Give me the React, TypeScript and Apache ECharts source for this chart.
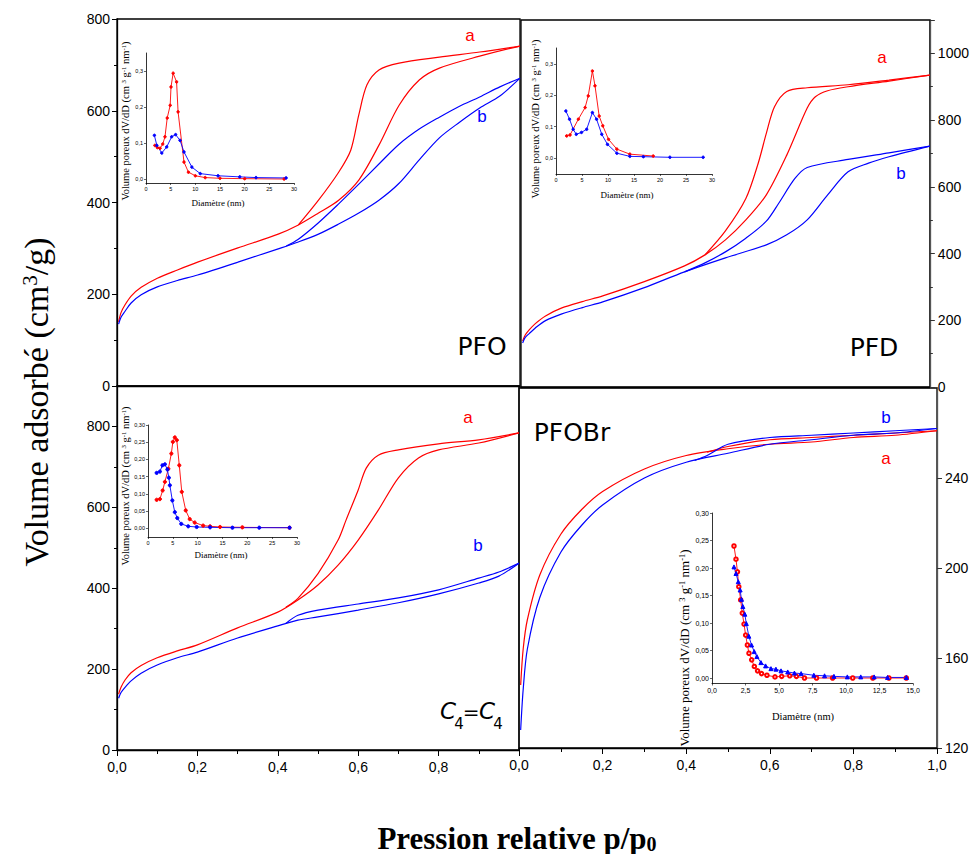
import React, { useEffect, useRef } from "react";
import * as echarts from "echarts";

const RED = "#ff0000";
const BLUE = "#0000ff";

// ---------- Isotherms: [p/p0, volume cm3/g] ----------
// PFO (top-left)
const pfoRedAds = [[0.004,140],[0.01,160],[0.02,177],[0.035,196],[0.06,215],[0.1,235],[0.15,253],[0.2,270],[0.3,301],[0.4,331],[0.45,351],[0.5,377],[0.55,405],[0.6,449],[0.65,525],[0.7,612],[0.75,667],[0.8,693],[0.9,719],[1.0,741]];
const pfoRedDes = [[1.0,741],[0.9,728],[0.8,717],[0.7,704],[0.65,689],[0.62,656],[0.6,591],[0.58,514],[0.55,466],[0.5,405],[0.45,351]];
const pfoBlueAds = [[0.004,135],[0.01,150],[0.02,163],[0.035,181],[0.06,199],[0.1,216],[0.15,230],[0.2,242],[0.3,270],[0.4,299],[0.45,314],[0.5,331],[0.55,353],[0.6,377],[0.65,405],[0.7,442],[0.75,493],[0.8,541],[0.85,575],[0.9,606],[0.95,632],[1.0,671]];
const pfoBlueDes = [[1.0,671],[0.95,652],[0.9,630],[0.85,610],[0.8,586],[0.75,560],[0.7,527],[0.65,484],[0.6,440],[0.55,397],[0.5,356],[0.45,320],[0.42,305]];

// PFD (top-right)
const pfdRedAds = [[0.004,138],[0.01,155],[0.02,171],[0.035,190],[0.06,213],[0.1,237],[0.15,256],[0.2,273],[0.3,315],[0.4,363],[0.45,396],[0.5,441],[0.55,501],[0.6,576],[0.65,695],[0.7,836],[0.72,870],[0.75,888],[0.8,900],[0.9,917],[1.0,935]];
const pfdRedDes = [[1.0,935],[0.9,920],[0.8,906],[0.7,897],[0.65,886],[0.62,840],[0.6,760],[0.58,670],[0.55,565],[0.5,468],[0.45,396]];
const pfdBlueAds = [[0.004,132],[0.01,148],[0.02,160],[0.035,177],[0.06,199],[0.1,219],[0.15,238],[0.2,255],[0.3,297],[0.4,345],[0.5,387],[0.6,426],[0.65,456],[0.7,501],[0.75,576],[0.8,645],[0.85,671],[0.9,690],[1.0,722]];
const pfdBlueDes = [[1.0,722],[0.9,702],[0.8,682],[0.7,658],[0.67,625],[0.63,550],[0.6,497],[0.55,446],[0.5,405],[0.45,372],[0.4,345]];

// C4=C4 (bottom-left)
const c4RedAds = [[0.004,138],[0.01,155],[0.02,173],[0.035,191],[0.06,209],[0.1,228],[0.15,245],[0.2,260],[0.3,302],[0.4,341],[0.45,371],[0.5,408],[0.55,457],[0.6,519],[0.65,593],[0.7,673],[0.75,722],[0.8,742],[0.9,759],[1.0,784]];
const c4RedDes = [[1.0,784],[0.9,767],[0.8,757],[0.7,742],[0.65,729],[0.62,697],[0.6,643],[0.57,569],[0.55,519],[0.5,436],[0.45,375],[0.42,353]];
const c4BlueAds = [[0.004,128],[0.01,142],[0.02,155],[0.035,171],[0.06,190],[0.1,210],[0.15,228],[0.2,242],[0.3,277],[0.4,307],[0.45,321],[0.5,329],[0.6,346],[0.7,364],[0.8,386],[0.9,413],[0.95,430],[1.0,462]];
const c4BlueDes = [[1.0,462],[0.95,440],[0.9,425],[0.8,396],[0.7,376],[0.6,361],[0.5,346],[0.45,333],[0.42,313]];

// PFOBr (bottom-right)
const brRedAds = [[0.004,148],[0.01,164],[0.02,177],[0.05,197],[0.1,215],[0.15,226],[0.2,234],[0.3,244],[0.4,250],[0.5,253],[0.6,255],[0.7,256],[0.8,258],[0.9,259],[1.0,261]];
const brRedDes = [[1.0,261],[0.9,260],[0.8,259],[0.7,258],[0.6,257],[0.5,254],[0.45,251.5]];
const brBlueAds = [[0.004,128],[0.01,146],[0.02,164],[0.05,187],[0.1,207],[0.15,219],[0.2,228],[0.3,240],[0.4,247],[0.5,251],[0.6,255],[0.7,257],[0.8,259],[0.9,260],[1.0,262]];
const brBlueDes = [[1.0,262],[0.9,261],[0.8,260],[0.7,259],[0.6,258],[0.5,255],[0.45,250],[0.42,247.8]];

// ---------- Pore size distributions: [diameter nm, dV/dD] ----------
const psdPfoRed = [[1.8,0.094],[2.3,0.088],[2.85,0.086],[3.4,0.098],[3.85,0.118],[4.3,0.17],[4.9,0.205],[5.07,0.256],[5.5,0.294],[6.2,0.27],[6.5,0.187],[7.7,0.048],[8.6,0.02],[10,0.01],[12,0.005],[15,0.003],[20,0.002],[28,0.001]];
const psdPfoBlue = [[1.7,0.122],[2.2,0.094],[3.2,0.073],[4.2,0.09],[5.2,0.118],[6.0,0.124],[6.9,0.108],[7.7,0.076],[9.3,0.034],[11,0.016],[14.6,0.01],[19,0.007],[22.3,0.005],[28.4,0.004]];
const psdPfdRed = [[2.05,0.071],[2.7,0.074],[4.3,0.124],[5.6,0.161],[6.2,0.198],[7.0,0.277],[7.5,0.23],[8.3,0.134],[9.0,0.103],[10.1,0.06],[11.7,0.029],[14.2,0.013],[18.7,0.007]];
const psdPfdBlue = [[1.9,0.15],[2.6,0.124],[3.3,0.092],[3.9,0.076],[4.9,0.082],[5.9,0.092],[7.0,0.145],[7.8,0.124],[8.8,0.076],[9.9,0.044],[11.7,0.016],[14.2,0.006],[16.8,0.005],[21.9,0.003],[28.3,0.003]];
const psdC4Red = [[1.74,0.083],[2.4,0.085],[2.95,0.11],[3.4,0.135],[4.1,0.173],[4.7,0.217],[5.0,0.251],[5.4,0.264],[5.8,0.256],[6.3,0.183],[6.8,0.106],[7.6,0.052],[8.4,0.027],[9.4,0.017],[11.1,0.008],[12.5,0.006],[14.5,0.004],[19,0.003],[28.5,0.002]];
const psdC4Blue = [[1.74,0.161],[2.4,0.165],[2.9,0.183],[3.4,0.186],[3.9,0.171],[4.2,0.147],[4.4,0.125],[4.9,0.081],[5.4,0.047],[5.9,0.03],[6.7,0.013],[8.1,0.006],[9.8,0.004],[12.5,0.003],[17,0.002],[22.4,0.002],[28.5,0.002]];
const psdBrRed = [[1.64,0.24],[1.79,0.216],[1.9,0.193],[2.0,0.166],[2.14,0.142],[2.26,0.118],[2.39,0.098],[2.51,0.078],[2.64,0.06],[2.76,0.045],[2.96,0.033],[3.16,0.021],[3.4,0.013],[3.7,0.008],[4.1,0.005],[4.7,0.002],[5.2,0.003],[5.8,0.004],[6.3,0.003],[6.9,0.0],[7.8,0.0],[9.0,0.0],[10.5,0.0],[12,0.0],[13.2,0.0],[14.5,0.0]];
const psdBrBlue = [[1.64,0.202],[1.79,0.19],[1.96,0.175],[2.1,0.16],[2.2,0.143],[2.3,0.13],[2.45,0.116],[2.56,0.099],[2.75,0.076],[2.95,0.06],[3.15,0.048],[3.35,0.039],[3.65,0.028],[4.0,0.022],[4.4,0.017],[4.77,0.016],[5.15,0.013],[5.65,0.011],[6.15,0.009],[6.65,0.008],[7.6,0.005],[8.4,0.004],[9.1,0.003],[10.1,0.002],[11.1,0.002],[12.1,0.002],[13.1,0.001],[14.5,0.001]];

// ---------- Tick labels ----------
const insetYTicks1 = [0, 0.1, 0.2, 0.3];
const insetYTicks2 = [0, 0.05, 0.1, 0.15, 0.2, 0.25, 0.3];

const fmt1 = (v: number) => v.toFixed(1).replace(".", ",");
const fmt2 = (v: number) => v.toFixed(2).replace(".", ",");
const fmtInt = (v: number) => String(Math.round(v));
const NARROW = "'Liberation Sans Narrow', 'Liberation Sans', Arial, sans-serif";
const SERIF = "'Liberation Serif', 'Times New Roman', serif";
const HAND = "'DejaVu Sans', 'Noto Sans', sans-serif";

function buildOption() {
  const grids = [
    { left: 117, top: 19, width: 403, height: 367 },
    { left: 521, top: 20, width: 415, height: 367 },
    { left: 117, top: 386, width: 402, height: 364 },
    { left: 519, top: 388, width: 418, height: 360 },
    { left: 146, top: 53, width: 148, height: 130 },
    { left: 556, top: 48, width: 156, height: 126 },
    { left: 148, top: 425, width: 149, height: 112 },
    { left: 712, top: 513, width: 201, height: 170.5 },
  ].map((g, i) => ({
    ...g,
    containLabel: false,
    show: i < 4,
    borderColor: "#000",
    borderWidth: 1.3,
    backgroundColor: "transparent",
  }));

  const mainLine = { show: true, onZero: false, lineStyle: { color: "#000", width: 1.3 } };
  const rightLine = { show: true, onZero: false, lineStyle: { color: "#555", width: 1.3 } };

  const xAxis: any[] = [
    { gridIndex: 0, type: "value", min: 0, max: 1, axisLine: mainLine, axisTick: { show: false }, axisLabel: { show: false }, splitLine: { show: false } },
    { gridIndex: 1, type: "value", min: 0, max: 1, axisLine: mainLine, axisTick: { show: false }, axisLabel: { show: false }, splitLine: { show: false } },
    {
      gridIndex: 2, type: "value", min: 0, max: 1, interval: 0.2, axisLine: mainLine,
      axisTick: { show: true, length: 6, lineStyle: { color: "#000" } },
      minorTick: { show: true, splitNumber: 2, length: 4, lineStyle: { color: "#000" } },
      axisLabel: { formatter: fmt1, showMaxLabel: false, color: "#000", fontFamily: NARROW, fontSize: 14, margin: 10 },
      splitLine: { show: false }, minorSplitLine: { show: false },
    },
    {
      gridIndex: 3, type: "value", min: 0, max: 1, interval: 0.2, axisLine: mainLine,
      axisTick: { show: true, length: 6, lineStyle: { color: "#000" } },
      minorTick: { show: true, splitNumber: 2, length: 4, lineStyle: { color: "#000" } },
      axisLabel: { formatter: fmt1, color: "#000", fontFamily: NARROW, fontSize: 14, margin: 10 },
      splitLine: { show: false }, minorSplitLine: { show: false },
    },
  ];
  const yAxis: any[] = [
    {
      gridIndex: 0, type: "value", position: "left", min: 0, max: 800, interval: 200, axisLine: mainLine,
      axisTick: { show: true, length: 5, lineStyle: { color: "#000" } },
      minorTick: { show: true, splitNumber: 2, length: 3, lineStyle: { color: "#000" } },
      axisLabel: { formatter: fmtInt, color: "#000", fontFamily: NARROW, fontSize: 14, margin: 7 },
      splitLine: { show: false },
    },
    {
      gridIndex: 1, type: "value", position: "right", min: 0, max: 1100, interval: 200, axisLine: rightLine,
      axisTick: { show: true, length: 5, lineStyle: { color: "#333" } },
      minorTick: { show: true, splitNumber: 2, length: 3, lineStyle: { color: "#333" } },
      axisLabel: { formatter: fmtInt, color: "#000", fontFamily: NARROW, fontSize: 14, margin: 8, showMaxLabel: false },
      splitLine: { show: false },
    },
    {
      gridIndex: 2, type: "value", position: "left", min: 0, max: 900, interval: 200, axisLine: mainLine,
      axisTick: { show: true, length: 5, lineStyle: { color: "#000" } },
      minorTick: { show: true, splitNumber: 2, length: 3, lineStyle: { color: "#000" } },
      axisLabel: { formatter: fmtInt, color: "#000", fontFamily: NARROW, fontSize: 14, margin: 7, showMaxLabel: false },
      splitLine: { show: false },
    },
    {
      gridIndex: 3, type: "value", position: "right", min: 120, max: 280, interval: 40, axisLine: rightLine,
      axisTick: { show: true, length: 5, lineStyle: { color: "#333" } },
      axisLabel: { formatter: fmtInt, color: "#000", fontFamily: NARROW, fontSize: 14, margin: 8, showMaxLabel: false },
      splitLine: { show: false },
    },
  ];

  const insetX = (gi: number, max: number, interval: number, fmt: any, fs: number) => ({
    gridIndex: gi, type: "value", min: 0, max, interval,
    axisLine: { show: true, onZero: false, lineStyle: { color: "#000", width: 0.8 } },
    axisTick: { show: true, length: 2, lineStyle: { color: "#000", width: 0.6 } },
    axisLabel: { formatter: fmt, color: "#000", fontFamily: NARROW, fontSize: fs, margin: 3 },
    splitLine: { show: false },
  });
  const insetY = (gi: number, min: number, max: number, ticks: number[], fmt: any, fs: number) => ({
    gridIndex: gi, type: "value", min, max,
    axisLine: { show: true, onZero: false, lineStyle: { color: "#000", width: 0.8 } },
    axisTick: { show: true, length: 2, customValues: ticks, lineStyle: { color: "#000", width: 0.6 } },
    axisLabel: { formatter: fmt, customValues: ticks, color: "#000", fontFamily: NARROW, fontSize: fs, margin: 3 },
    splitLine: { show: false },
  });
  xAxis.push(insetX(4, 30, 5, fmtInt, 5.5));
  xAxis.push(insetX(5, 30, 5, fmtInt, 5.5));
  xAxis.push(insetX(6, 30, 5, fmtInt, 5.5));
  xAxis.push(insetX(7, 15, 2.5, fmt1, 7));
  yAxis.push(insetY(4, -0.01, 0.35, insetYTicks1, fmt1, 5.5));
  yAxis.push(insetY(5, -0.05, 0.35, insetYTicks1, fmt1, 5.5));
  yAxis.push(insetY(6, -0.025, 0.3, insetYTicks2, fmt2, 5.5));
  yAxis.push(insetY(7, -0.01, 0.3, insetYTicks2, fmt2, 7));

  const iso = (data: number[][], color: string, idx: number) => ({
    type: "line", data, xAxisIndex: idx, yAxisIndex: idx, symbol: "none", showSymbol: false,
    smooth: 0.3, lineStyle: { color, width: 1.2 }, itemStyle: { color }, silent: true, z: 3,
  });
  const psd = (data: number[][], color: string, idx: number, symbol = "circle", size = 2.5) => ({
    type: "line", data, xAxisIndex: idx, yAxisIndex: idx, symbol, symbolSize: size, showSymbol: true,
    lineStyle: { color, width: 0.9 }, itemStyle: { color, borderColor: color }, silent: true, z: 4,
  });

  const series = [
    iso(pfoRedAds, RED, 0), iso(pfoRedDes, RED, 0), iso(pfoBlueAds, BLUE, 0), iso(pfoBlueDes, BLUE, 0),
    iso(pfdRedAds, RED, 1), iso(pfdRedDes, RED, 1), iso(pfdBlueAds, BLUE, 1), iso(pfdBlueDes, BLUE, 1),
    iso(c4RedAds, RED, 2), iso(c4RedDes, RED, 2), iso(c4BlueAds, BLUE, 2), iso(c4BlueDes, BLUE, 2),
    iso(brRedAds, RED, 3), iso(brRedDes, RED, 3), iso(brBlueAds, BLUE, 3), iso(brBlueDes, BLUE, 3),
    psd(psdPfoRed, RED, 4), psd(psdPfoBlue, BLUE, 4),
    psd(psdPfdRed, RED, 5), psd(psdPfdBlue, BLUE, 5),
    psd(psdC4Red, RED, 6, "circle", 3.2), psd(psdC4Blue, BLUE, 6, "circle", 3.2),
    psd(psdBrRed, RED, 7, "emptyCircle", 3.5), psd(psdBrBlue, BLUE, 7, "triangle", 4),
  ];

  const txt = (x: number, y: number, text: string, fill: string, fontSize: number, family = "'Liberation Sans', Arial, sans-serif", extra: any = {}) => ({
    type: "text", x, y, silent: true, z: 10,
    style: { text, fill, fontSize, fontFamily: family, align: "center", verticalAlign: "middle", ...extra },
  });

  const insetTitle = (x: number, y: number, fs: number) => ({
    type: "text", x, y, rotation: Math.PI / 2, silent: true, z: 10,
    style: {
      text: "{n|Volume poreux dV/dD (cm }{s|3}{n| g}{s|-1}{n| nm}{s|-1}{n|)}",
      align: "center", verticalAlign: "middle", fill: "#000",
      rich: {
        n: { fontFamily: SERIF, fontSize: fs, fill: "#000", verticalAlign: "bottom" },
        s: { fontFamily: SERIF, fontSize: fs * 0.65, fill: "#000", verticalAlign: "top" },
      },
    },
  });

  const graphic = [
    {
      type: "text", x: 36, y: 402, rotation: Math.PI / 2, silent: true,
      style: {
        text: "{n|Volume adsorbé (cm}{s|3}{n|/g)}", align: "center", verticalAlign: "middle", fill: "#000",
        rich: {
          n: { fontFamily: SERIF, fontSize: 34, fill: "#000", verticalAlign: "bottom" },
          s: { fontFamily: SERIF, fontSize: 21, fill: "#000", verticalAlign: "top" },
        },
      },
    },
    {
      type: "text", x: 517, y: 838, silent: true,
      style: {
        text: "{n|Pression relative p/p}{s|0}", align: "center", verticalAlign: "middle", fill: "#000",
        rich: {
          n: { fontFamily: SERIF, fontSize: 31, fontWeight: "bold", fill: "#000", verticalAlign: "top" },
          s: { fontFamily: SERIF, fontSize: 20, fontWeight: "bold", fill: "#000", verticalAlign: "bottom" },
        },
      },
    },
    txt(482, 346, "PFO", "#000", 25, HAND),
    txt(874, 347, "PFD", "#000", 25, HAND),
    txt(572, 432, "PFOBr", "#000", 25, HAND),
    // C4 = C4 label
    txt(448, 711, "C", "#000", 23, HAND, { fontStyle: "italic" }),
    txt(459, 724, "4", "#000", 15, HAND),
    txt(471, 712, "=", "#000", 20, HAND),
    txt(487, 711, "C", "#000", 23, HAND, { fontStyle: "italic" }),
    txt(498, 724, "4", "#000", 15, HAND),
    // a / b labels
    txt(470, 35, "a", RED, 17), txt(482, 116, "b", BLUE, 17),
    txt(882, 57, "a", RED, 17), txt(901, 173, "b", BLUE, 17),
    txt(468, 417, "a", RED, 17), txt(478, 545, "b", BLUE, 17),
    txt(886, 417, "b", BLUE, 17), txt(886, 458, "a", RED, 17),
    insetTitle(125, 121, 10.5),
    insetTitle(535, 119, 10.5),
    insetTitle(125, 486, 10.5),
    insetTitle(684, 648, 13),
    txt(218, 203, "Diamètre (nm)", "#000", 9, SERIF),
    txt(627, 195, "Diamètre (nm)", "#000", 9, SERIF),
    txt(221, 555, "Diamètre (nm)", "#000", 9, SERIF),
    txt(803, 716, "Diamètre (nm)", "#000", 10.5, SERIF),
  ];

  return {
    animation: false,
    backgroundColor: "#fff",
    grid: grids,
    xAxis,
    yAxis,
    series,
    graphic,
  };
}

export default function App() {
  const ref = useRef<HTMLDivElement>(null);
  useEffect(() => {
    if (!ref.current) return;
    const chart = echarts.init(ref.current, null, { renderer: "svg" });
    chart.setOption(buildOption() as any);
    return () => chart.dispose();
  }, []);
  return (
    <div
      ref={ref}
      style={{ position: "fixed", left: 0, top: 0, width: 972, height: 854, background: "#fff" }}
    />
  );
}
